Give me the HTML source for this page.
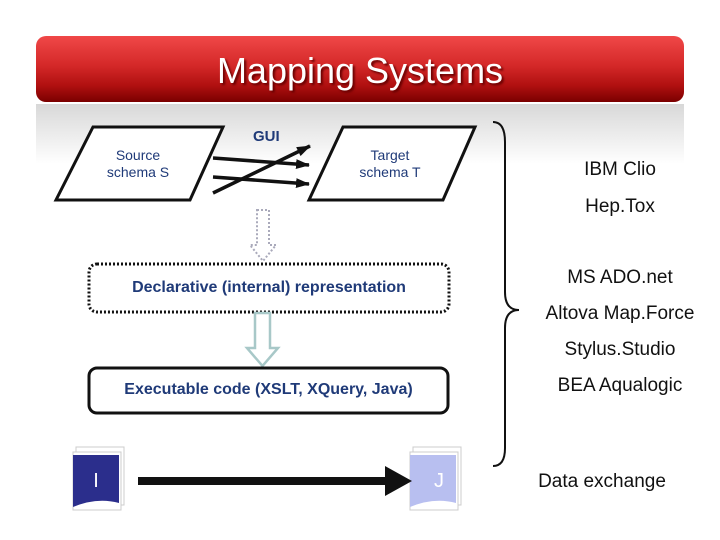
<!DOCTYPE html>
<html><head><style>
body{margin:0;width:720px;height:540px;background:#fff;position:relative;overflow:hidden;font-family:"Liberation Sans",Arial,sans-serif}
.t{position:absolute;white-space:nowrap}
.r{font-size:19px;color:#111;text-align:center;width:200px;left:520px}
</style></head><body>
<div style="position:absolute;left:36px;top:104px;width:648px;height:60px;background:linear-gradient(#d8d8d8,#fff)"></div>
<div style="position:absolute;left:36px;top:36px;width:648px;height:66px;border-radius:10px;background:linear-gradient(#f04848 0%,#d42828 45%,#b01010 75%,#7a0000 100%)"></div>
<div class="t" style="left:36px;width:648px;top:50px;text-align:center;font-size:36px;color:#fff;text-shadow:2px 2px 2px #600">Mapping Systems</div>
<svg width="720" height="540" style="position:absolute;left:0;top:0">
<defs><marker id="a" markerUnits="userSpaceOnUse" markerWidth="14" markerHeight="12" refX="13" refY="6" orient="auto"><path d="M0,1L14,6L0,11z" fill="#111"/></marker></defs>
<polygon points="93,127 223,127 190,200 56,200" fill="#fff" stroke="#111" stroke-width="3"/>
<polygon points="343,127 475,127 443,200 309,200" fill="#fff" stroke="#111" stroke-width="3"/>
<line x1="213" y1="158" x2="309" y2="165" stroke="#111" stroke-width="3.5" marker-end="url(#a)"/>
<line x1="213" y1="177" x2="309" y2="184" stroke="#111" stroke-width="3.5" marker-end="url(#a)"/>
<line x1="213" y1="193" x2="310" y2="146" stroke="#111" stroke-width="3.5" marker-end="url(#a)"/>
<path d="M257,210h12v35h7l-13,16l-13,-16h7z" fill="#fff" stroke="#aab" stroke-width="2" stroke-dasharray="2,2"/>
<rect x="89" y="264" width="360" height="48" rx="8" fill="#fff" stroke="#111" stroke-width="3" stroke-dasharray="2,2"/>
<path d="M255,313h15v35h8l-15.5,18l-15.5,-18h8z" fill="#fff" stroke="#a8c8c8" stroke-width="2.5"/>
<rect x="89" y="368" width="359" height="45" rx="8" fill="#fff" stroke="#111" stroke-width="3"/>
<g stroke="#ccc" fill="#fff"><rect x="76" y="447" width="48" height="58"/><rect x="73" y="452" width="48" height="58"/></g>
<path d="M73,455h46v48q-22,-6 -46,4z" fill="#2b2e8c"/>
<g stroke="#ccc" fill="#fff"><rect x="413" y="447" width="48" height="58"/><rect x="410" y="452" width="48" height="58"/></g>
<path d="M410,455h46v48q-22,-6 -46,4z" fill="#b8bff0"/>
<line x1="138" y1="481" x2="395" y2="481" stroke="#111" stroke-width="8"/>
<path d="M385,466L412,481L385,496z" fill="#111"/>
<path d="M493,122q12,0 12,20v150q0,18 14,18q-14,0 -14,18v120q0,18 -12,18" fill="none" stroke="#111" stroke-width="2"/>
</svg>
<div class="t" style="left:253px;top:128px;font-size:15px;font-weight:bold;color:#1f3a78">GUI</div>
<div class="t" style="left:88px;width:100px;text-align:center;top:147px;font-size:14px;line-height:17px;color:#1f3a78">Source<br>schema S</div>
<div class="t" style="left:340px;width:100px;text-align:center;top:147px;font-size:14px;line-height:17px;color:#1f3a78">Target<br>schema T</div>
<div class="t" style="left:89px;width:360px;text-align:center;top:279px;font-size:16px;font-weight:bold;color:#1f3a78">Declarative (internal) representation</div>
<div class="t" style="left:89px;width:359px;text-align:center;top:381px;font-size:16px;font-weight:bold;color:#1f3a78">Executable code (XSLT, XQuery, Java)</div>
<div class="t" style="left:73px;width:46px;text-align:center;top:470px;font-size:20px;color:#fff">I</div>
<div class="t" style="left:416px;width:46px;text-align:center;top:470px;font-size:20px;color:#fff">J</div>
<div class="t r" style="top:159px">IBM Clio</div>
<div class="t r" style="top:196px">Hep.Tox</div>
<div class="t r" style="top:267px">MS ADO.net</div>
<div class="t r" style="top:303px">Altova Map.Force</div>
<div class="t r" style="top:339px">Stylus.Studio</div>
<div class="t r" style="top:375px">BEA Aqualogic</div>
<div class="t" style="left:502px;width:200px;text-align:center;top:471px;font-size:19px;color:#111">Data exchange</div>
</body></html>
